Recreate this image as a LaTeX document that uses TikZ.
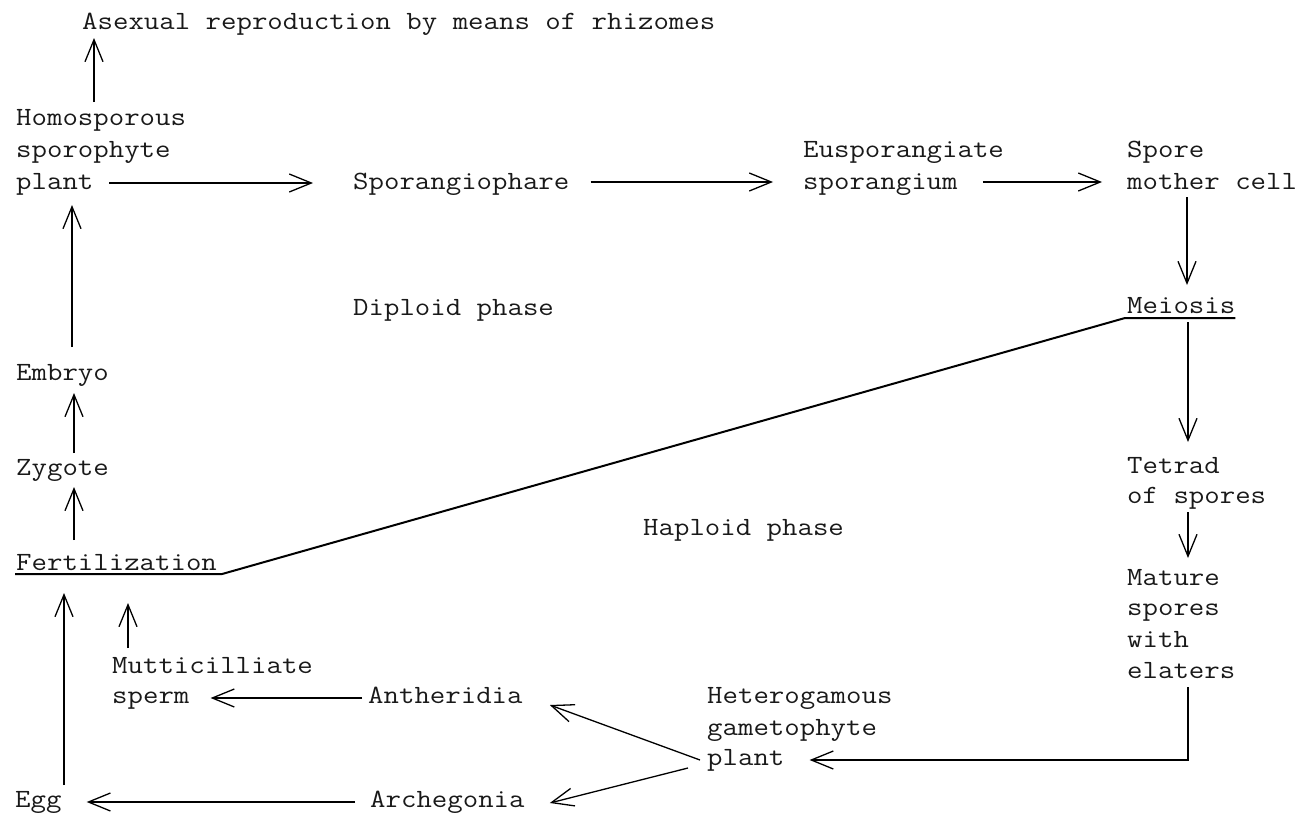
\documentclass[tikz,border=0pt]{standalone}
\usepackage{fontspec}
\setmainfont{Latin Modern Mono}[FakeStretch=1.14]
\usetikzlibrary{arrows.meta,calc}
\begin{document}
\begin{tikzpicture}[x=1pt,y=-1pt,
  lbl/.style={anchor=base west, inner sep=0pt,
    font=\fontsize{26.3pt}{32pt}\selectfont, text=black!90},
  arr/.style={line width=1.3pt, -{Straight Barb[length=22pt,width=18pt]}},
  rule/.style={line width=2pt, line join=round}]
\useasboundingbox (0,0) rectangle (1307,827);

% sporophyte (diploid) generation
\node[lbl] (asexual) at (82,29) {Asexual reproduction by means of rhizomes};
\node[lbl] (homo1) at (16,125) {Homosporous};
\node[lbl] (homo2) at (16,157) {sporophyte};
\node[lbl] (plant) at (16,189) {plant};
\node[lbl] (sporangiophare) at (353,189) {Sporangiophare};
\node[lbl] (eusp) at (803,157) {Eusporangiate};
\node[lbl] (sporangium) at (803,189) {sporangium};
\node[lbl] (spore) at (1127,157) {Spore};
\node[lbl] (mother) at (1127,189) {mother cell};
\node[lbl] (meiosis) at (1127,313) {Meiosis};
\node[lbl] (diploid) at (353,315) {Diploid phase};
\node[lbl] (embryo) at (16,380) {Embryo};
\node[lbl] (zygote) at (16,475) {Zygote};
\node[lbl] (fert) at (16,570) {Fertilization};

% gametophyte (haploid) generation
\node[lbl] (tetrad) at (1127,473) {Tetrad};
\node[lbl] (ofspores) at (1127,503) {of spores};
\node[lbl] (mature) at (1127,585) {Mature};
\node[lbl] (spores) at (1127,615) {spores};
\node[lbl] (with) at (1127,647) {with};
\node[lbl] (elaters) at (1127,678) {elaters};
\node[lbl] (haploid) at (643,535) {Haploid phase};
\node[lbl] (hetero) at (707,703) {Heterogamous};
\node[lbl] (gameto) at (707,735) {gametophyte};
\node[lbl] (gplant) at (707,765) {plant};
\node[lbl] (multi) at (112,673) {Mutticilliate};
\node[lbl] (sperm) at (112,703) {sperm};
\node[lbl] (antheridia) at (368,703) {Antheridia};
\node[lbl] (egg) at (15,807) {Egg};
\node[lbl] (archegonia) at (370,807) {Archegonia};

% boundary between the two phases: underlines joined by a slanted rule
\draw[rule] ($(fert.base west)+(-1,4)$) -- ($(fert.base east)+(5,4)$)
  -- ($(meiosis.base west)+(-2,5)$) -- ($(meiosis.base east)+(0,5)$);

% connectors
\draw[arr] ($(homo1.base west)+(78,-23)$) -- ($(asexual.base west)+(12,9)$);
\draw[arr] ($(plant.base west)+(93,-6)$) -- ($(sporangiophare.base west)+(-40,-6)$);
\draw[arr] ($(sporangiophare.base east)+(21,-7)$) -- ($(sporangium.base west)+(-30,-7)$);
\draw[arr] ($(sporangium.base east)+(25,-7)$) -- ($(mother.base west)+(-25,-7)$);
\draw[arr] ($(mother.base west)+(60,8)$) -- ($(meiosis.base west)+(60,-28)$);
\draw[arr] ($(meiosis.base west)+(61,9)$) -- ($(tetrad.base west)+(61,-31)$);
\draw[arr] ($(ofspores.base west)+(61,9)$) -- ($(mature.base west)+(61,-27)$);
\draw[arr] ($(elaters.base west)+(61,9)$) |- ($(gplant.base east)+(25,-5)$);
\draw[arr] ($(gplant.base west)+(-7,-5)$) -- ($(antheridia.base east)+(27,2)$);
\draw[arr] ($(gplant.base west)+(-19,3)$) -- ($(archegonia.base east)+(25,-4)$);
\draw[arr] ($(antheridia.base west)+(-6,-5)$) -- ($(sperm.base east)+(21,-5)$);
\draw[arr] ($(archegonia.base west)+(-15,-5)$) -- ($(egg.base east)+(25,-5)$);
\draw[arr] ($(egg.base west)+(49,-22)$) -- ($(fert.base west)+(48,23)$);
\draw[arr] ($(multi.base west)+(16,-25)$) -- ($(fert.base west)+(112,33)$);
\draw[arr] ($(fert.base west)+(58,-30)$) -- ($(zygote.base west)+(58,12)$);
\draw[arr] ($(zygote.base west)+(58,-22)$) -- ($(embryo.base west)+(58,13)$);
\draw[arr] ($(embryo.base west)+(56,-33)$) -- ($(plant.base west)+(56,16)$);
\end{tikzpicture}
\end{document}
